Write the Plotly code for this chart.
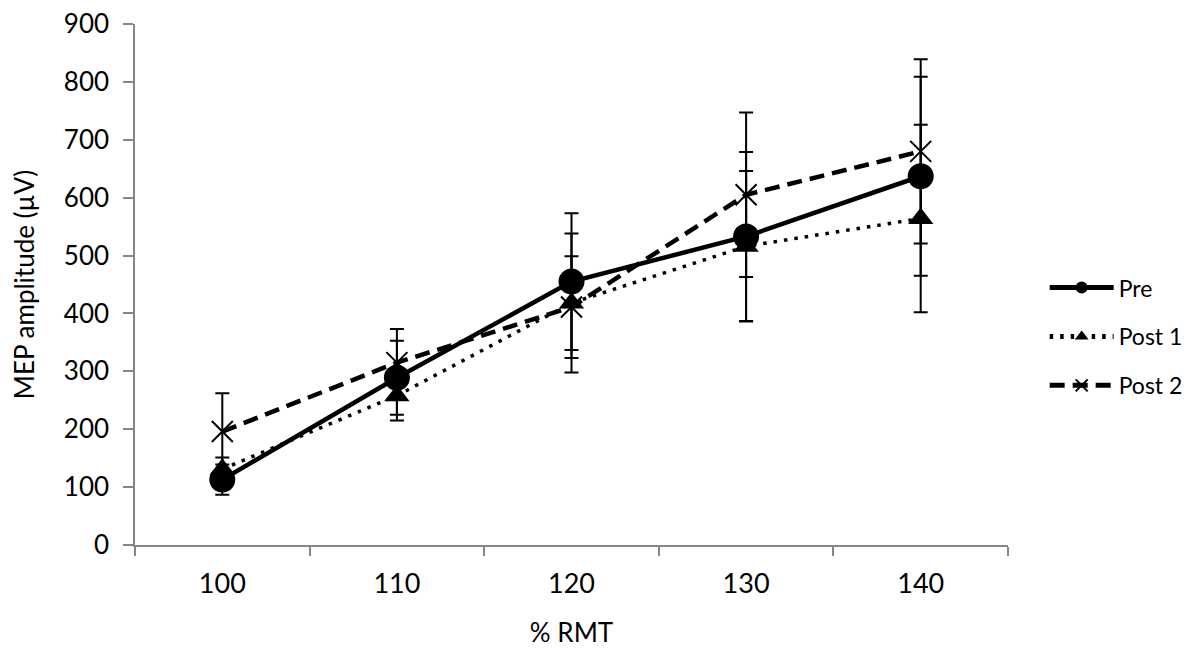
import plotly.graph_objects as go

categories = ["100", "110", "120", "130", "140"]
pre = [113, 289, 455, 533, 637]
pre_err = [26, 64, 118, 146, 172]
post1 = [131, 258, 418, 516, 564]
post1_err = [20, 43, 120, 130, 162]
post2 = [196, 315, 411, 605, 680]
post2_err = [66, 58, 88, 142, 159]

FONT = "Lato, 'Open Sans', sans-serif"
err_style = dict(type="data", visible=True, color="black", thickness=2, width=7)

fig = go.Figure()
fig.add_trace(go.Scatter(
    x=categories, y=pre, name="Pre", mode="lines+markers", legendgroup="a",
    line=dict(color="black", width=4.5),
    marker=dict(symbol="circle", size=26, color="black"),
    error_y=dict(array=pre_err, **err_style),
))
fig.add_trace(go.Scatter(
    x=categories, y=post1, name="Post 1", mode="lines+markers", legendgroup="b",
    line=dict(color="black", width=3.5, dash="3.5px,7px"),
    marker=dict(symbol="triangle-up", size=22, color="black"),
    error_y=dict(array=post1_err, **err_style),
))
fig.add_trace(go.Scatter(
    x=categories, y=post2, name="Post 2", mode="lines+markers", legendgroup="c",
    line=dict(color="black", width=4.5, dash="15px,8px"),
    marker=dict(symbol="x-thin-open", size=21, color="black",
                line=dict(color="black", width=2)),
    error_y=dict(array=post2_err, **err_style),
))

# the page body adds an 8px margin, so the figure is sized to compensate
fig.update_layout(
    width=1192, height=640,
    margin=dict(l=127, r=192, t=16, b=103),
    paper_bgcolor="white", plot_bgcolor="white",
    font=dict(family=FONT, color="black", size=26),
    showlegend=True,
    legend=dict(x=1.042, y=0.40, xanchor="left", yanchor="middle",
                font=dict(size=23), traceorder="grouped", tracegroupgap=16,
                itemsizing="constant", itemwidth=64),
    xaxis=dict(
        type="category", tickson="boundaries", automargin=False,
        range=[-0.5, len(categories) - 0.5],
        showline=True, linecolor="#868686", linewidth=1.5,
        ticks="outside", ticklen=9, tickcolor="#868686", tickwidth=1.5,
        showgrid=False, zeroline=False,
        tickfont=dict(size=27), ticklabelstandoff=14,
        title=dict(text="% RMT", font=dict(size=26), standoff=28),
    ),
    yaxis=dict(
        range=[0, 900], dtick=100, automargin=False,
        showline=True, linecolor="#868686", linewidth=1.5,
        ticks="outside", ticklen=10, tickcolor="#868686", tickwidth=1.5,
        showgrid=False, zeroline=False, ticklabeloverflow="allow",
        tickfont=dict(size=26), ticklabelstandoff=9,
        title=dict(text="MEP amplitude (µV)", font=dict(size=26), standoff=24),
    ),
)

fig.write_html("out.html")
